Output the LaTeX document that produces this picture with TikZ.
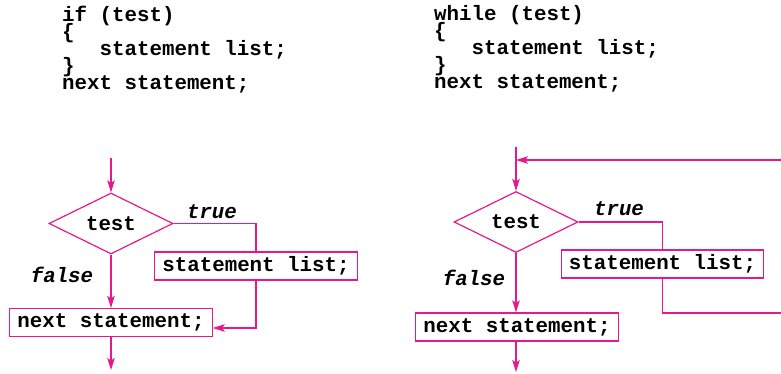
\documentclass[tikz,border=0pt]{standalone}
\usepackage{fontspec}
\setmonofont{Liberation Mono}
\usetikzlibrary{shapes.geometric, arrows.meta}
\setlength{\lineskiplimit}{-30pt}
\definecolor{flowpink}{RGB}{230,25,140}
\tikzset{
    codefont/.style={font=\ttfamily\bfseries\fontsize{20.8}{17}\selectfont},
    code/.style={codefont, align=left, inner sep=0pt, anchor=base west},
    block/.style={codefont, draw=flowpink, line width=1.2pt, inner xsep=7.5pt, inner ysep=0pt, minimum height=28pt},
    decision/.style={codefont, draw=flowpink, line width=1.2pt, diamond, aspect=2, inner sep=0pt, minimum width=124pt, minimum height=61pt},
    branch/.style={font=\ttfamily\bfseries\itshape\fontsize{20.8}{17}\selectfont, inner sep=0pt},
    flow/.style={draw=flowpink, line width=1.2pt},
}

\begin{document}
\begin{tikzpicture}[x=1pt, y=-1pt, >={Stealth[length=12pt, width=7.5pt, inset=2.5pt]}]
    \clip (0,0) rectangle (781,374);

    \node[code] (ifcode)    at (62,90)  {if (test)\\\{\\\phantom{xxx}statement list;\\\}\\next statement;};
    \node[code] (whilecode) at (434,89) {while (test)\\\{\\\phantom{xxx}statement list;\\\}\\next statement;};

    \node[decision] (iftest)  at (111,223.5) {test};
    \node[block]    (ifbody)  at (256,266)   {statement list;};
    \node[block]    (ifnext)  at (111,322.5) {next statement;};
    \node[branch]   (iftrue)  at (212,212)   {true};
    \node[branch]   (iffalse) at (62,275)    {false};
    \coordinate (ifin)  at (111,158);
    \coordinate (ifout) at (111,370);

    \node[decision] (wtest)  at (516,222)   {test};
    \node[block]    (wbody)  at (662.5,264) {statement list;};
    \node[block]    (wnext)  at (517,327)   {next statement;};
    \node[branch]   (wtrue)  at (619,209)   {true};
    \node[branch]   (wfalse) at (474,278)   {false};
    \coordinate (whilein)    at (516,147);
    \coordinate (whileout)   at (516,372);
    \coordinate (looptop)    at (516,160);
    \coordinate (loopbottom) at (800,313);

    \draw[flow, ->] (ifin) -- (iftest);
    \draw[flow, ->] (iftest) -- (ifnext);
    \draw[flow] (iftest.east) -| (ifbody);
    \draw[flow, ->] (ifbody) |- ([yshift=-5.5pt]ifnext.east);
    \draw[flow, ->] (ifnext) -- (ifout);

    \draw[flow, ->] (whilein) -- (wtest);
    \draw[flow, ->] (wtest) -- (wtest.south |- wnext.north);
    \draw[flow] (wtest.east) -| (wbody);
    \draw[flow, ->] (wbody) |- (loopbottom) |- (looptop);
    \draw[flow, ->] (wnext.south -| whileout) -- (whileout);
\end{tikzpicture}
\end{document}
